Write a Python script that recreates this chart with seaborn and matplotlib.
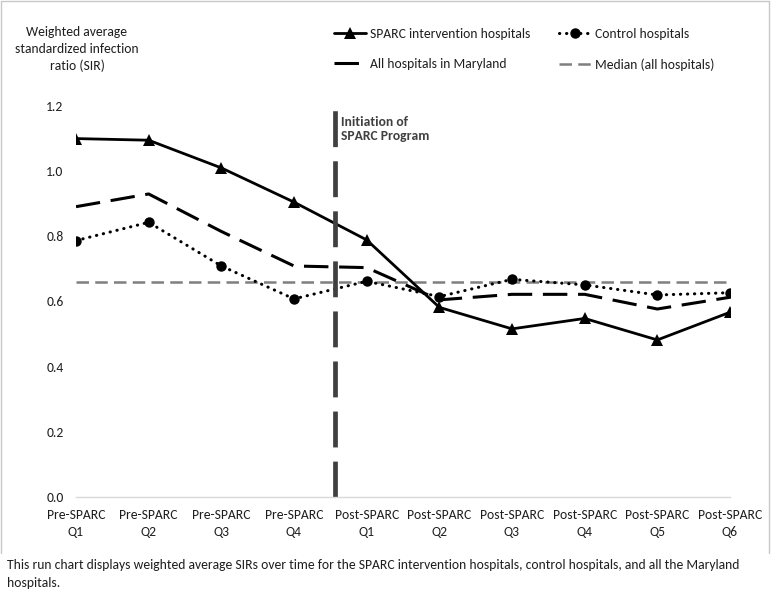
import matplotlib
matplotlib.use("Agg")
import matplotlib.pyplot as plt
import seaborn as sns
from matplotlib.lines import Line2D

# data
periods = ["Pre-SPARC\nQ1", "Pre-SPARC\nQ2", "Pre-SPARC\nQ3", "Pre-SPARC\nQ4",
           "Post-SPARC\nQ1", "Post-SPARC\nQ2", "Post-SPARC\nQ3", "Post-SPARC\nQ4",
           "Post-SPARC\nQ5", "Post-SPARC\nQ6"]
sparc = [1.10, 1.095, 1.01, 0.905, 0.789, 0.582, 0.516, 0.548, 0.482, 0.567]
control = [0.787, 0.843, 0.709, 0.608, 0.662, 0.615, 0.668, 0.651, 0.620, 0.627]
all_md = [0.891, 0.930, 0.815, 0.709, 0.704, 0.605, 0.622, 0.622, 0.577, 0.613]
median_all = 0.66
initiation_x = 3.56

sns.set_style("white")
plt.rcParams["font.family"] = ["Carlito", "Lato", "DejaVu Sans"]
plt.rcParams["font.size"] = 9.8
txt = "#1f1f1f"

fig = plt.figure(figsize=(7.71, 6.01), dpi=100)
ax = fig.add_axes([76 / 771, 1 - 497 / 601, (730 - 76) / 771, (497 - 106) / 601])

x = list(range(len(periods)))

sns.lineplot(x=x, y=[median_all] * len(x), ax=ax, color="#7f7f7f", lw=1.8,
             linestyle=(0, (5, 2.5)), label="Median (all hospitals)")
sns.lineplot(x=x, y=all_md, ax=ax, color="black", lw=2.2,
             linestyle=(0, (8, 3.5)), label="All hospitals in Maryland")
sns.lineplot(x=x, y=control, ax=ax, color="black", lw=2.2,
             linestyle=(0, (0.1, 2.2)), dash_capstyle="round",
             marker="o", markersize=7.5, markeredgewidth=0, label="Control hospitals")
sns.lineplot(x=x, y=sparc, ax=ax, color="black", lw=2.0,
             marker="^", markersize=8.5, markeredgewidth=0,
             label="SPARC intervention hospitals")

ax.plot([initiation_x, initiation_x], [0, 1.2], color="#404040", lw=3.4,
        linestyle=(0, (7.6, 3.0)), clip_on=False)
ax.text(initiation_x + 0.08, 1.17, "Initiation of\nSPARC Program", va="top",
        ha="left", fontweight="bold", color="#404040", linespacing=1.2)

ax.set_xlim(0, 9)
ax.set_ylim(0, 1.2)
ax.set_yticks([0, 0.2, 0.4, 0.6, 0.8, 1.0, 1.2])
ax.set_yticklabels([f"{v:.1f}" for v in [0, 0.2, 0.4, 0.6, 0.8, 1.0, 1.2]])
ax.set_xticks(x)
ax.set_xticklabels(periods, linespacing=1.5)
ax.tick_params(axis="y", length=0, pad=9, colors=txt)
ax.tick_params(axis="x", direction="in", length=4, width=0.8, color="#d9d9d9",
               pad=8.5, labelcolor=txt)
for s in ["top", "right", "left"]:
    ax.spines[s].set_visible(False)
ax.spines["bottom"].set_color("#d9d9d9")
ax.spines["bottom"].set_linewidth(1)
ax.set_xlabel("")
ax.set_ylabel("")
ax.get_legend().remove()

fig.text(77 / 771, 1 - 49 / 601, "Weighted average\nstandardized infection\nratio (SIR)",
         ha="center", va="center", color=txt, linespacing=1.45)

lines = {l.get_label(): l for l in ax.get_lines()}
leg1 = fig.legend([lines["SPARC intervention hospitals"], lines["All hospitals in Maryland"]],
                  ["SPARC intervention hospitals", "All hospitals in Maryland"],
                  loc="upper left", bbox_to_anchor=(322 / 771, 1 - 16 / 601), frameon=False,
                  handlelength=2.3, handletextpad=0.3, labelspacing=1.3, labelcolor=txt)
leg2 = fig.legend([lines["Control hospitals"], lines["Median (all hospitals)"]],
                  ["Control hospitals", "Median (all hospitals)"],
                  loc="upper left", bbox_to_anchor=(547 / 771, 1 - 16 / 601), frameon=False,
                  handlelength=2.3, handletextpad=0.3, labelspacing=1.3, labelcolor=txt)

# light frame around the chart area
fc = "#c8c8c8"
fig.add_artist(Line2D([1 / 771, 1 / 771], [1 - 553 / 601, 1 - 1 / 601], color=fc, lw=1))
fig.add_artist(Line2D([1 / 771, 769 / 771], [1 - 1 / 601, 1 - 1 / 601], color=fc, lw=1))
fig.add_artist(Line2D([769 / 771, 769 / 771], [1 - 553 / 601, 1 - 1 / 601], color=fc, lw=1))

fig.text(7 / 771, 1 - 559 / 601,
         "This run chart displays weighted average SIRs over time for the SPARC intervention "
         "hospitals, control hospitals, and all the Maryland\nhospitals.",
         ha="left", va="top", color=txt, linespacing=1.6)

fig.savefig("out.png", dpi=100)
